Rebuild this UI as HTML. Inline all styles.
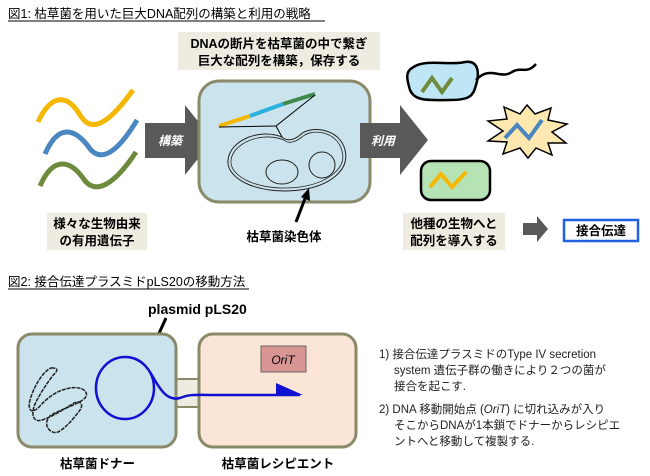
<!DOCTYPE html>
<html><head><meta charset="utf-8"><style>
html,body{margin:0;padding:0;background:#fff;}
svg{display:block;font-family:"Liberation Sans","Noto Sans CJK JP",sans-serif;}
</style></head><body>
<svg width="650" height="476" viewBox="0 0 650 476" xmlns="http://www.w3.org/2000/svg">
<text x="8" y="18" font-size="12.5" fill="#000">図1: 枯草菌を用いた巨大DNA配列の構築と利用の戦略</text>
<line x1="8" y1="21" x2="325" y2="21" stroke="#000" stroke-width="1"/>

<rect x="178" y="32" width="202" height="38" fill="#eeebe0"/>
<text x="279" y="48" font-size="12.5" font-weight="bold" text-anchor="middle">DNAの断片を枯草菌の中で繋ぎ</text>
<text x="279" y="65" font-size="12.5" font-weight="bold" text-anchor="middle">巨大な配列を構築，保存する</text>

<path d="M38,122 C52,92 68,95 80,115 C92,135 110,122 133,90" fill="none" stroke="#f5b800" stroke-width="5"/>
<path d="M45,154 C58,124 74,128 88,146 C100,165 118,152 137,120" fill="none" stroke="#4a86c0" stroke-width="5"/>
<path d="M40,186 C53,156 70,160 83,178 C95,197 115,184 136,152" fill="none" stroke="#6e8b3d" stroke-width="5"/>

<polygon points="145,123 185,123 185,105 213,140 185,175 185,158 145,158" fill="#595959"/>
<text x="170" y="145" font-size="12" font-weight="bold" font-style="italic" fill="#fff" text-anchor="middle">構築</text>

<rect x="199" y="81" width="171" height="121" rx="20" fill="#cbe3ec" stroke="#8a8a6a" stroke-width="3"/>
<line x1="219" y1="126" x2="250" y2="116" stroke="#f5b800" stroke-width="4"/>
<line x1="250" y1="116" x2="283" y2="104" stroke="#2bb0e0" stroke-width="4"/>
<line x1="283" y1="104" x2="315" y2="94" stroke="#3d8a4a" stroke-width="4"/>
<polyline points="219,127 276,126 315,95" fill="none" stroke="#000" stroke-width="1"/>
<line x1="276" y1="126" x2="282" y2="137" stroke="#000" stroke-width="1"/>
<path d="M282,137 C260,128 230,140 228,160 C226,180 260,195 300,190 C330,186 350,170 345,150 C340,128 310,125 300,135 C292,142 285,140 282,137 Z" fill="none" stroke="#222" stroke-width="1"/>
<path d="M284,140 C262,131 233,143 231,160 C229,178 262,192 300,187 C328,183 347,168 342,151 C337,131 312,128 302,137 C293,144 287,143 284,140 Z" fill="none" stroke="#222" stroke-width="0.8"/>
<ellipse cx="282" cy="172" rx="16" ry="12" fill="none" stroke="#222" stroke-width="1"/>
<ellipse cx="322" cy="165" rx="13" ry="13" fill="none" stroke="#222" stroke-width="1"/>

<polygon points="360,123 400,123 400,105 428,140 400,175 400,158 360,158" fill="#595959"/>
<text x="383" y="145" font-size="12" font-weight="bold" font-style="italic" fill="#fff" text-anchor="middle">利用</text>

<path d="M412,68 C425,58 450,66 465,62 C478,60 480,72 476,85 C473,96 470,100 450,100 C430,100 415,102 410,90 C407,80 405,72 412,68 Z" fill="#bfe6f5" stroke="#000" stroke-width="2.5"/>
<path d="M476,80 C490,65 500,80 512,72 C522,66 526,75 536,64" fill="none" stroke="#000" stroke-width="2.5"/>
<polyline points="422,92 432,78 442,92 452,78" fill="none" stroke="#6e8b3d" stroke-width="4"/>
<polygon points="527,105 535,114 551,108 548,120 567,124 552,132 566,143 548,143 552,155 536,148 528,158 520,148 503,154 507,142 488,141 503,131 488,121 507,119 504,107 520,114" fill="#fde9b0" stroke="#000" stroke-width="1.5"/>
<polyline points="505,138 517,125 529,138 542,120" fill="none" stroke="#4a86c0" stroke-width="4"/>
<rect x="421" y="161" width="69" height="39" rx="10" fill="#b5e3b5" stroke="#000" stroke-width="2.5"/>
<polyline points="430,187 441,174 452,187 466,172" fill="none" stroke="#f5b800" stroke-width="4"/>

<rect x="47" y="213" width="100" height="37" fill="#eeebe0"/>
<text x="97" y="228" font-size="12.5" font-weight="bold" text-anchor="middle">様々な生物由来</text>
<text x="97" y="245" font-size="12.5" font-weight="bold" text-anchor="middle">の有用遺伝子</text>

<line x1="296" y1="222" x2="306" y2="196" stroke="#000" stroke-width="3"/>
<polygon points="309,188 310,201 301,197" fill="#000"/>
<text x="284" y="241" font-size="12.5" font-weight="bold" text-anchor="middle">枯草菌染色体</text>

<rect x="403" y="213" width="102" height="37" fill="#eeebe0"/>
<text x="454" y="228" font-size="12.5" font-weight="bold" text-anchor="middle">他種の生物へと</text>
<text x="454" y="245" font-size="12.5" font-weight="bold" text-anchor="middle">配列を導入する</text>

<polygon points="523,223 537,223 537,216 548,229 537,242 537,235 523,235" fill="#595959"/>
<rect x="564" y="220" width="74" height="21" fill="#fff" stroke="#2060e0" stroke-width="2.5"/>
<text x="601" y="235" font-size="12.5" font-weight="bold" text-anchor="middle">接合伝達</text>

<text x="8" y="286" font-size="12.5">図2: 接合伝達プラスミドpLS20の移動方法</text>
<line x1="8" y1="289" x2="249" y2="289" stroke="#000" stroke-width="1"/>

<text x="148" y="314" font-size="14" font-weight="bold">plasmid pLS20</text>
<line x1="166" y1="318" x2="156" y2="340" stroke="#000" stroke-width="3"/>
<polygon points="151,347 151,335 160,339" fill="#000"/>

<rect x="176" y="379" width="24" height="28" rx="3" fill="#eeebe0" stroke="#8a8a6a" stroke-width="2"/>
<rect x="18" y="334" width="158" height="113" rx="14" fill="#cbe3ec" stroke="#8a8a6a" stroke-width="3"/>
<rect x="199" y="334" width="157" height="113" rx="14" fill="#fbe5d6" stroke="#8a8a6a" stroke-width="3"/>

<path d="M53,368 C48,366 35,382 30,400 C27,412 33,414 40,406 C48,397 58,390 70,388 C82,386 90,392 85,398 C78,405 58,410 50,416 C42,424 50,435 58,432 C66,428 74,418 80,410 C84,404 80,400 74,403 C66,408 52,417 42,420 C33,423 30,414 36,402 C42,390 52,376 56,372 C58,369 56,368 53,368" fill="none" stroke="#222" stroke-width="1.5" stroke-dasharray="4,1"/>
<ellipse cx="125" cy="388" rx="29" ry="31" fill="none" stroke="#1010d0" stroke-width="2.5"/>
<path d="M150,372 C158,385 165,402 180,398 C190,394 195,395 210,395 L300,395" fill="none" stroke="#1010d0" stroke-width="2.5"/>
<polygon points="276,383 303,395 276,396" fill="#1010d0"/>

<rect x="261" y="346" width="45" height="26" fill="#d99594" stroke="#666" stroke-width="1"/>
<text x="283" y="364" font-size="12" font-style="italic" text-anchor="middle">OriT</text>

<text x="60" y="468" font-size="12.5" font-weight="bold">枯草菌ドナー</text>
<text x="278" y="468" font-size="12.5" font-weight="bold" text-anchor="middle">枯草菌レシピエント</text>

<g font-size="11.5" fill="#222">
<text x="379" y="358">1) 接合伝達プラスミドのType IV secretion</text>
<text x="394" y="374">system 遺伝子群の働きにより２つの菌が</text>
<text x="394" y="390">接合を起こす.</text>
<text x="379" y="413">2) DNA 移動開始点 (<tspan font-style="italic">OriT</tspan>) に切れ込みが入り</text>
<text x="394" y="429">そこからDNAが1本鎖でドナーからレシピエ</text>
<text x="394" y="445">ントへと移動して複製する.</text>
</g>
</svg>
</body></html>
